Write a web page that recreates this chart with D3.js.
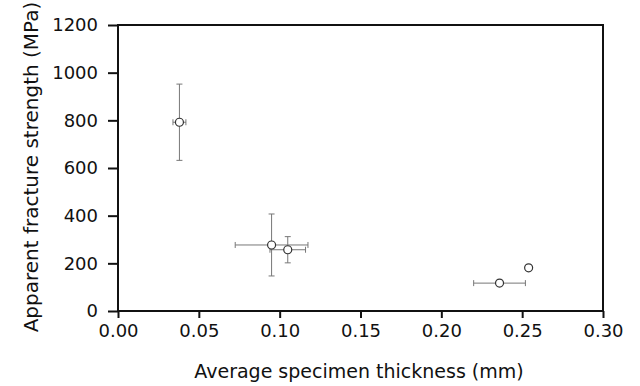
<!DOCTYPE html>
<html>
<head>
<meta charset="utf-8">
<title></title>
<style>
    body { margin: 0; background: #fff; }
    text { font-family: "DejaVu Sans", sans-serif; fill: #111; }
    .tick text { font-size: 18px; }
    .axis-title { font-size: 19px; }
</style>
</head>
<body>
<script src="https://cdn.jsdelivr.net/npm/d3@7/dist/d3.min.js"></script>
<script>
    var width = 640, height = 386;

    // data
    var thickness    = [0.038, 0.095, 0.105, 0.236, 0.254];   // mm
    var thicknessErr = [0.004, 0.0225, 0.011, 0.016, 0];
    var strength     = [792, 277, 257, 117, 181];             // MPa
    var strengthErr  = [160, 130, 55, 8, 0];

    var xTicks = [0, 0.05, 0.10, 0.15, 0.20, 0.25, 0.30];
    var yTicks = [0, 200, 400, 600, 800, 1000, 1200];

    var margin = {top: 25, right: 37, bottom: 75, left: 118};

    var svg = d3.select("body").append("svg")
        .attr("width", width)
        .attr("height", height);

    var x = d3.scaleLinear().domain([0, 0.30]).range([margin.left, width - margin.right]);
    var y = d3.scaleLinear().domain([0, 1200]).range([height - margin.bottom, margin.top]);

    // x axis
    svg.append("g")
        .attr("transform", "translate(0," + y(0) + ")")
        .call(d3.axisBottom(x).tickValues(xTicks).tickFormat(d3.format(".2f")).tickSize(7).tickPadding(6))
        .call(g => g.select(".domain").remove())
        .call(g => g.selectAll(".tick line").attr("stroke", "#111").attr("stroke-width", 2));

    // y axis
    svg.append("g")
        .attr("transform", "translate(" + x(0) + ",0)")
        .call(d3.axisLeft(y).tickValues(yTicks).tickFormat(d3.format("d")).tickSize(10).tickPadding(10))
        .call(g => g.select(".domain").remove())
        .call(g => g.selectAll(".tick line").attr("stroke", "#111").attr("stroke-width", 2));

    svg.selectAll(".tick text").attr("fill", "#111");

    // frame
    svg.append("rect")
        .attr("x", x(0)).attr("y", y(1200))
        .attr("width", x(0.30) - x(0)).attr("height", y(0) - y(1200))
        .attr("fill", "none").attr("stroke", "#111").attr("stroke-width", 2);

    // axis titles
    svg.append("text")
        .attr("class", "axis-title")
        .attr("x", 359)
        .attr("y", 378)
        .attr("text-anchor", "middle")
        .text("Average specimen thickness (mm)");

    svg.append("text")
        .attr("class", "axis-title")
        .style("font-size", "20px")
        .attr("transform", "translate(38,167)rotate(-90)")
        .attr("text-anchor", "middle")
        .text("Apparent fracture strength (MPa)");

    var pts = thickness.map(function(t, i) {
        return {x: t, y: strength[i], ex: thicknessErr[i], ey: strengthErr[i]};
    });

    var cap = 3;
    var eb = svg.append("g").attr("stroke", "#777").attr("stroke-width", 1).attr("fill", "none");

    pts.forEach(function(d) {
        if (d.ey > 0) {
            eb.append("line").attr("x1", x(d.x)).attr("x2", x(d.x))
                .attr("y1", y(d.y - d.ey)).attr("y2", y(d.y + d.ey));
            eb.append("line").attr("x1", x(d.x) - cap).attr("x2", x(d.x) + cap)
                .attr("y1", y(d.y - d.ey)).attr("y2", y(d.y - d.ey));
            eb.append("line").attr("x1", x(d.x) - cap).attr("x2", x(d.x) + cap)
                .attr("y1", y(d.y + d.ey)).attr("y2", y(d.y + d.ey));
        }
        if (d.ex > 0) {
            eb.append("line").attr("x1", x(d.x - d.ex)).attr("x2", x(d.x + d.ex))
                .attr("y1", y(d.y)).attr("y2", y(d.y));
            eb.append("line").attr("x1", x(d.x - d.ex)).attr("x2", x(d.x - d.ex))
                .attr("y1", y(d.y) - cap).attr("y2", y(d.y) + cap);
            eb.append("line").attr("x1", x(d.x + d.ex)).attr("x2", x(d.x + d.ex))
                .attr("y1", y(d.y) - cap).attr("y2", y(d.y) + cap);
        }
    });

    svg.append("g").selectAll("circle")
        .data(pts)
        .enter()
        .append("circle")
        .attr("cx", d => x(d.x))
        .attr("cy", d => y(d.y))
        .attr("r", 4)
        .attr("fill", "#fff")
        .attr("stroke", "#333")
        .attr("stroke-width", 1.2);
</script>
</body>
</html>
